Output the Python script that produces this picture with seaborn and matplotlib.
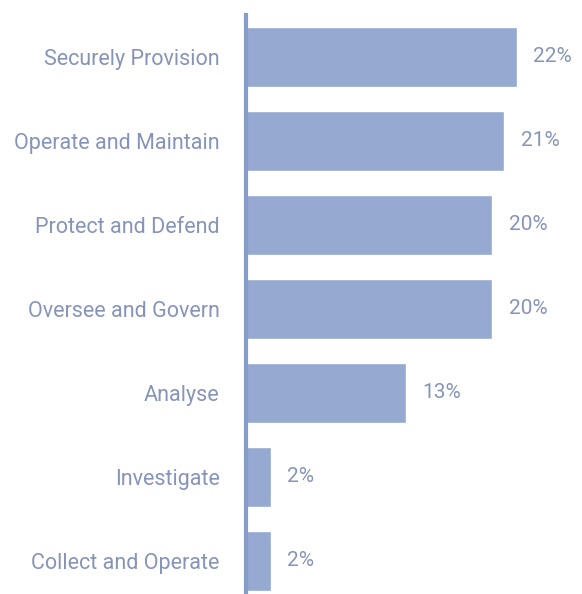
import matplotlib
matplotlib.use("Agg")
import matplotlib.pyplot as plt
import seaborn as sns
import pandas as pd

categories = ["Securely Provision", "Operate and Maintain", "Protect and Defend",
              "Oversee and Govern", "Analyse", "Investigate", "Collect and Operate"]
values = [22, 21, 20, 20, 13, 2, 2]

df = pd.DataFrame({"category": categories, "value": values})

sns.set_style("white")
plt.rcParams["font.family"] = ["Roboto", "DejaVu Sans"]

bar_color = "#95a9d1"
text_color = "#8794b9"

fig = plt.figure(figsize=(5.82, 5.94), dpi=100)
ax = fig.add_axes([246 / 582, 0, 1 - 246 / 582, 1 - 15 / 594])

sns.barplot(data=df, x="value", y="category", orient="h", color=bar_color,
            width=0.714, saturation=1, ax=ax)

ax.set_xlim(0, (582 - 246) / 12.3)
ax.set_ylim(6.393, -0.5)

for c in ax.containers:
    ax.bar_label(c, labels=[f"{v}%" for v in values], padding=12,
                 fontsize=15, color=text_color)

ax.set_xlabel("")
ax.set_ylabel("")
ax.set_xticks([])
ax.tick_params(axis="y", length=0, pad=19, labelsize=15.5, labelcolor=text_color)

for side in ["top", "right", "bottom"]:
    ax.spines[side].set_visible(False)
ax.spines["left"].set_color("#869cc9")
ax.spines["left"].set_linewidth(3)

fig.savefig("out.png", dpi=100)
